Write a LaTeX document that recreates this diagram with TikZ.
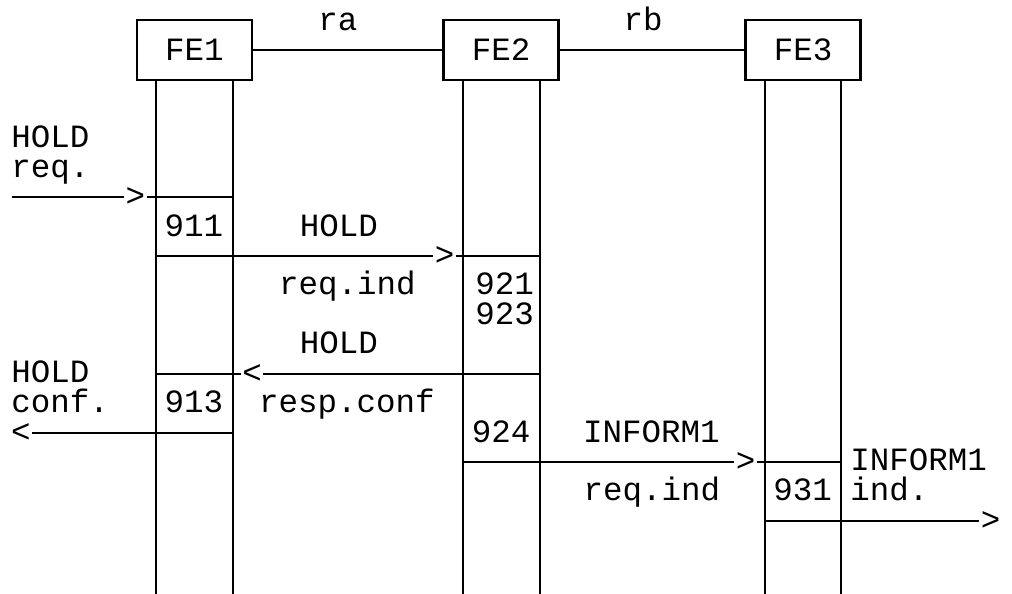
\documentclass[tikz,border=0pt]{standalone}
\usepackage{fontspec}
\setmainfont{Liberation Mono}
\begin{document}
\begin{tikzpicture}[x=0.5pt,y=-0.5pt,line width=1.4pt,
  font=\fontsize{16.25}{14.75}\selectfont,
  febox/.style={draw, minimum width=57.5pt, minimum height=30pt, inner sep=0pt},
  lbl/.style={anchor=base, inner sep=0pt},
  lbll/.style={anchor=base west, inner sep=0pt, align=left},
  tip/.style={inner sep=0pt}]

% -------------------------------------------------
% Cadre
% -------------------------------------------------
\useasboundingbox (0,0) rectangle (1012,594);

% -------------------------------------------------
% Entites fonctionnelles
% -------------------------------------------------
\node[febox] (fe1) at (194.5,50) {FE1};
\node[febox] (fe2) at (501,50) {FE2};
\node[febox] (fe3) at (803,50) {FE3};
\draw (fe1) -- (fe2);
\draw (fe2) -- (fe3);
\node[lbl] (ra) at (338,30) {ra};
\node[lbl] (rb) at (643,30) {rb};

% -------------------------------------------------
% Lignes de vie
% -------------------------------------------------
\foreach \x in {156,233,463,540,765,841}
  \draw (\x,80) -- (\x,594);

% -------------------------------------------------
% HOLD req.
% -------------------------------------------------
\node[lbll] (hreq) at (10,177) {HOLD\\req.};
\coordinate (m1a) at (12,197);
\coordinate (m1b) at (233,197);
\node[tip] (t1) at (135.5,197) {>};
\draw (m1a) -- (t1.west);
\draw (t1.east) -- (m1b);
\node[lbl] (n911) at (194,236) {911};

% -------------------------------------------------
% HOLD req.ind
% -------------------------------------------------
\coordinate (m2a) at (156,256);
\coordinate (m2b) at (540,256);
\node[tip] (t2) at (444.5,256) {>};
\draw (m2a) -- (t2.west);
\draw (t2.east) -- (m2b);
\node[lbl] (hri) at (339,236) {HOLD};
\node[lbl] (hrib) at (347.5,294) {req.ind};
\node[lbll] (n921) at (474,324) {921\\923};

% -------------------------------------------------
% HOLD resp.conf
% -------------------------------------------------
\coordinate (m3a) at (540,374);
\coordinate (m3b) at (156,374);
\node[tip] (t3) at (252,374) {<};
\draw (m3a) -- (t3.east);
\draw (t3.west) -- (m3b);
\node[lbl] (hrc) at (339,353) {HOLD};
\node[lbl] (hrcb) at (347,412) {resp.conf};

% -------------------------------------------------
% HOLD conf.
% -------------------------------------------------
\node[lbll] (hcf) at (10,412) {HOLD\\conf.};
\node[lbl] (n913) at (194,412) {913};
\coordinate (m4a) at (233,433);
\node[tip] (t4) at (21,433) {<};
\draw (m4a) -- (t4.east);

% -------------------------------------------------
% INFORM1 req.ind
% -------------------------------------------------
\node[lbl] (n924) at (501,442) {924};
\coordinate (m5a) at (463,462);
\coordinate (m5b) at (841,462);
\node[tip] (t5) at (745.5,462) {>};
\draw (m5a) -- (t5.west);
\draw (t5.east) -- (m5b);
\node[lbl] (iri) at (651.5,442) {INFORM1};
\node[lbl] (irib) at (652,500) {req.ind};

% -------------------------------------------------
% INFORM1 ind.
% -------------------------------------------------
\node[lbl] (n931) at (802.5,500) {931};
\node[lbll] (iin) at (849,500) {INFORM1\\ind.};
\coordinate (m6a) at (765,521);
\node[tip] (t6) at (990.5,521) {>};
\draw (m6a) -- (t6.west);

\end{tikzpicture}
\end{document}
